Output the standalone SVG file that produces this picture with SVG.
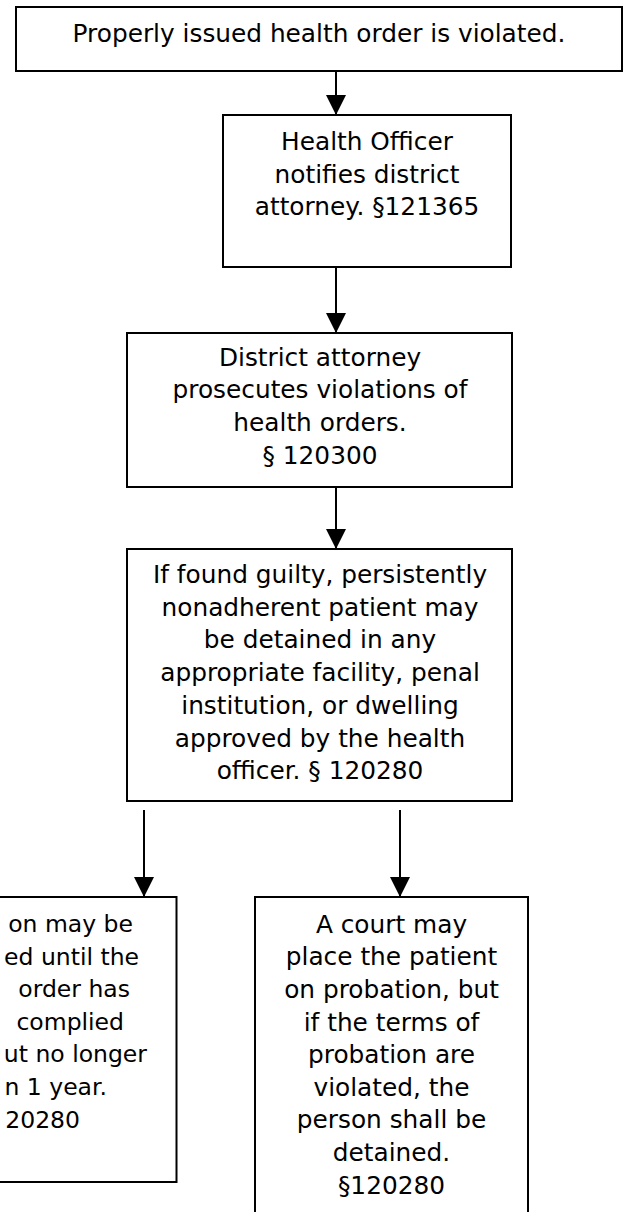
<svg xmlns="http://www.w3.org/2000/svg" width="626" height="1212" viewBox="0 0 626 1212">
<style>
.box{fill:#fff;stroke:#000;stroke-width:2}
.t{font-family:"DejaVu Sans","Liberation Sans",sans-serif;font-size:24.8px;fill:#000;text-anchor:middle}
.te{font-family:"DejaVu Sans","Liberation Sans",sans-serif;font-size:23.5px;fill:#000;text-anchor:end}
.c{stroke:#000;stroke-width:2;fill:none;marker-end:url(#ah)}
</style>
<defs>
<marker id="ah" viewBox="0 0 20 20" refX="20" refY="10" markerWidth="20" markerHeight="20" markerUnits="userSpaceOnUse" orient="auto">
<path d="M0,0 L20,10 L0,20 z" fill="#000"/>
</marker>
</defs>
<rect width="626" height="1212" fill="#fff"/>
<g id="connectors">
<line class="c" x1="336" y1="71" x2="336" y2="115"/>
<line class="c" x1="336" y1="267" x2="336" y2="333"/>
<line class="c" x1="336" y1="487" x2="336" y2="549"/>
<line class="c" x1="144" y1="810" x2="144" y2="897"/>
<line class="c" x1="400" y1="810" x2="400" y2="897"/>
</g>
<g id="n1">
<rect class="box" x="16" y="7" width="606" height="64"/>
<text class="t" x="319" y="42">Properly issued health order is violated.</text>
</g>
<g id="n2">
<rect class="box" x="223" y="115" width="288" height="152"/>
<text class="t" x="367" y="150">Health Officer</text>
<text class="t" x="367" y="182.7">notifies district</text>
<text class="t" x="367" y="215.4">attorney. §121365</text>
</g>
<g id="n3">
<rect class="box" x="127" y="333" width="385" height="154"/>
<text class="t" x="320" y="365.5">District attorney</text>
<text class="t" x="320" y="398.2">prosecutes violations of</text>
<text class="t" x="320" y="430.9">health orders.</text>
<text class="t" x="320" y="463.6">§ 120300</text>
</g>
<g id="n4">
<rect class="box" x="127" y="549" width="385" height="252"/>
<text class="t" x="320" y="583">If found guilty, persistently</text>
<text class="t" x="320" y="615.7">nonadherent patient may</text>
<text class="t" x="320" y="648.4">be detained in any</text>
<text class="t" x="320" y="681.1">appropriate facility, penal</text>
<text class="t" x="320" y="713.8">institution, or dwelling</text>
<text class="t" x="320" y="746.5">approved by the health</text>
<text class="t" x="320" y="779.2">officer. § 120280</text>
</g>
<g id="n5">
<rect class="box" x="-130" y="897" width="306.5" height="285"/>
<text class="te" x="133" y="932">on may be</text>
<text class="te" x="139" y="964.6">ed until the</text>
<text class="te" x="130" y="997.2">order has</text>
<text class="te" x="124" y="1029.8">complied</text>
<text class="te" x="147" y="1062.4">ut no longer</text>
<text class="te" x="107" y="1095">n 1 year.</text>
<text class="te" x="80" y="1127.6">20280</text>
</g>
<g id="n6">
<rect class="box" x="255" y="897" width="273" height="330"/>
<text class="t" x="391.5" y="932.7">A court may</text>
<text class="t" x="391.5" y="965.3">place the patient</text>
<text class="t" x="391.5" y="997.9">on probation, but</text>
<text class="t" x="391.5" y="1030.5">if the terms of</text>
<text class="t" x="391.5" y="1063.1">probation are</text>
<text class="t" x="391.5" y="1095.7">violated, the</text>
<text class="t" x="391.5" y="1128.3">person shall be</text>
<text class="t" x="391.5" y="1160.9">detained.</text>
<text class="t" x="391.5" y="1193.5">§120280</text>
</g>
</svg>
